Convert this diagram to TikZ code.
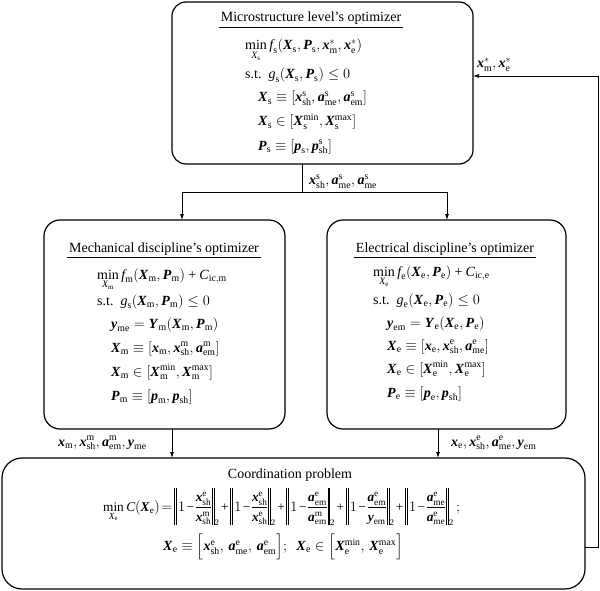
\documentclass[tikz,border=0pt]{standalone}
\usepackage{amsmath}
\usepackage{fontspec}
\setmainfont{Liberation Serif}
\usetikzlibrary{arrows.meta}
\newcommand{\vX}{\textbf{\textit{X}}}
\newcommand{\vP}{\textbf{\textit{P}}}
\newcommand{\vx}{\textbf{\textit{x}}}
\newcommand{\va}{\textbf{\textit{a}}}
\newcommand{\vy}{\textbf{\textit{y}}}
\newcommand{\vY}{\textbf{\textit{Y}}}
\newcommand{\vp}{\textbf{\textit{p}}}
\newcommand{\mf}{\textit{f}}
\newcommand{\mg}{\textit{g}}
\newcommand{\mC}{\textit{C}}
\newcommand{\mX}{\textit{X}}
\newcommand{\rmx}[1]{\mathrm{#1}}
\newcommand{\mplus}{\mathbin{\text{+}}}
\newcommand{\mminus}{\mathbin{\text{−}}}
\newcommand{\onebar}{\rule[-14pt]{0.5pt}{37pt}}
\newcommand{\dbar}{\onebar\hspace{1.4pt}\onebar}
\newcommand{\nrm}[2]{\dbar\mkern2mu 1\mminus\dfrac{#1}{#2}\mkern1mu\dbar_2}
\begin{document}
\begin{tikzpicture}[x=1pt,y=-1pt,
  font=\fontsize{14}{17}\selectfont,
  box/.style={draw, line width=1.2pt, rounded corners=16pt, inner sep=0pt, outer sep=0pt},
  conn/.style={draw, line width=0.8pt},
  arr/.style={-{Latex[length=6pt,width=4pt]}},
  ttl/.style={anchor=base, inner xsep=2pt, inner ysep=2.5pt},
  eq/.style={anchor=base west, inner sep=0pt},
  lbl/.style={anchor=base west, inner sep=0pt}]
\useasboundingbox (0,0) rectangle (600,591);
% boxes
\node[box, rounded corners=14pt, minimum width=301pt, minimum height=162pt] (top) at (322.5,83) {};
\node[box, minimum width=241pt, minimum height=209pt] (mech) at (164.5,324.5) {};
\node[box, minimum width=239pt, minimum height=209pt] (elec) at (446.5,324.5) {};
\node[box, rounded corners=20pt, minimum width=583pt, minimum height=131pt] (coord) at (293.5,523.5) {};
% top box content
\node[ttl] (t1) at (311,22) {Microstructure level’s optimizer};
\draw[line width=0.8pt] (t1.south west) -- (t1.south east);
\node[eq] (s1) at (245,50) {$\min\limits_{\mX_\rmx{s}} \mf_\rmx{s}(\vX_\rmx{s},\vP_\rmx{s},\vx_\rmx{m}^*,\vx_\rmx{e}^*)$};
\node[eq] (s2) at (245,79) {s.t.\ \ $\mg_\rmx{s}(\vX_\rmx{s},\vP_\rmx{s})\le 0$};
\node[eq] (s3) at (258,102) {$\vX_\rmx{s}\equiv[\vx_\rmx{sh}^\rmx{s},\va_\rmx{me}^\rmx{s},\va_\rmx{em}^\rmx{s}]$};
\node[eq] (s4) at (258,126) {$\vX_\rmx{s}\in[\vX_\rmx{s}^\rmx{min},\vX_\rmx{s}^\rmx{max}]$};
\node[eq] (s5) at (258,150) {$\vP_\rmx{s}\equiv[\vp_\rmx{s},\vp_\rmx{sh}^\rmx{s}]$};
% mech box content
\node[ttl] (t2) at (164,252) {Mechanical discipline’s optimizer};
\draw[line width=0.8pt] (t2.south west) -- (t2.south east);
\node[eq] (m1) at (97,279) {$\min\limits_{\mX_\rmx{m}} \mf_\rmx{m}(\vX_\rmx{m},\vP_\rmx{m})\mplus\mC_\rmx{ic,m}$};
\node[eq] (m2) at (97,305) {s.t.\ \ $\mg_\rmx{s}(\vX_\rmx{m},\vP_\rmx{m})\le 0$};
\node[eq] (m3) at (111,328) {$\vy_\rmx{me}=\vY_\rmx{m}(\vX_\rmx{m},\vP_\rmx{m})$};
\node[eq] (m4) at (111,352) {$\vX_\rmx{m}\equiv[\vx_\rmx{m},\vx_\rmx{sh}^\rmx{m},\va_\rmx{em}^\rmx{m}]$};
\node[eq] (m5) at (111,376) {$\vX_\rmx{m}\in[\vX_\rmx{m}^\rmx{min},\vX_\rmx{m}^\rmx{max}]$};
\node[eq] (m6) at (111,400) {$\vP_\rmx{m}\equiv[\vp_\rmx{m},\vp_\rmx{sh}]$};
% elec box content
\node[ttl] (t3) at (445,252) {Electrical discipline’s optimizer};
\draw[line width=0.8pt] (t3.south west) -- (t3.south east);
\node[eq] (e1) at (373,276) {$\min\limits_{\mX_\rmx{e}} \mf_\rmx{e}(\vX_\rmx{e},\vP_\rmx{e})\mplus\mC_\rmx{ic,e}$};
\node[eq] (e2) at (373,304) {s.t.\ \ $\mg_\rmx{e}(\vX_\rmx{e},\vP_\rmx{e})\le 0$};
\node[eq] (e3) at (387,327) {$\vy_\rmx{em}=\vY_\rmx{e}(\vX_\rmx{e},\vP_\rmx{e})$};
\node[eq] (e4) at (387,350) {$\vX_\rmx{e}\equiv[\vx_\rmx{e},\vx_\rmx{sh}^\rmx{e},\va_\rmx{me}^\rmx{e}]$};
\node[eq] (e5) at (387,373) {$\vX_\rmx{e}\in[\vX_\rmx{e}^\rmx{min},\vX_\rmx{e}^\rmx{max}]$};
\node[eq] (e6) at (387,397) {$\vP_\rmx{e}\equiv[\vp_\rmx{e},\vp_\rmx{sh}]$};
% coordination content
\node[anchor=base, inner sep=0pt] (t4) at (290,478) {Coordination problem};
\node[anchor=west, inner sep=0pt, font=\fontsize{13.3}{16}\selectfont] (c1) at (103,507) {\medmuskip=2mu\thickmuskip=2mu\nulldelimiterspace=0pt$\displaystyle\min\limits_{\mX_\rmx{e}} \mC(\vX_\rmx{e})=
 \nrm{\vx_\rmx{sh}^\rmx{e}}{\vx_\rmx{sh}^\rmx{m}}\mplus
 \nrm{\vx_\rmx{sh}^\rmx{e}}{\vx_\rmx{sh}^\rmx{e}}\mplus
 \nrm{\va_\rmx{em}^\rmx{e}}{\va_\rmx{em}^\rmx{m}}\mplus
 \nrm{\va_\rmx{em}^\rmx{e}}{\vy_\rmx{em}}\mplus
 \nrm{\va_\rmx{me}^\rmx{e}}{\va_\rmx{me}^\rmx{e}}\,;$};
\node[anchor=west, inner sep=0pt] (c2) at (163,547) {$\vX_\rmx{e}\equiv\Bigl[\vx_\rmx{sh}^\rmx{e},\,\va_\rmx{me}^\rmx{e},\,\va_\rmx{em}^\rmx{e}\Bigr];\ \ \vX_\rmx{e}\in\Bigl[\vX_\rmx{e}^\rmx{min},\,\vX_\rmx{e}^\rmx{max}\Bigr]$};
% connectors
\coordinate (j) at (302,192);
\coordinate (ma) at (182,192);
\coordinate (ea) at (447,192);
\draw[conn] (top.south -| j) -- (j);
\draw[conn] (ma) -- (ea);
\draw[conn,arr] (ma) -- (mech.north -| ma);
\draw[conn,arr] (ea) -- (elec.north -| ea);
\coordinate (mx) at (172,440);
\coordinate (ex) at (438,440);
\draw[conn,arr] (mech.south -| mx) -- (coord.north -| mx);
\draw[conn,arr] (elec.south -| ex) -- (coord.north -| ex);
\coordinate (fb1) at (598,547);
\coordinate (fb2) at (598,76);
\draw[conn,arr] (coord.east |- fb1) -- (fb1) -- (fb2) -- (top.east |- fb2);
% labels
\node[lbl] (l1) at (309,185) {$\vx_\rmx{sh}^\rmx{s},\va_\rmx{me}^\rmx{s},\va_\rmx{me}^\rmx{s}$};
\node[lbl] (l2) at (477,68) {$\vx_\rmx{m}^*,\vx_\rmx{e}^*$};
\node[lbl] (l3) at (58,446) {$\vx_\rmx{m},\vx_\rmx{sh}^\rmx{m},\va_\rmx{em}^\rmx{m},\vy_\rmx{me}$};
\node[lbl] (l4) at (451,446) {$\vx_\rmx{e},\vx_\rmx{sh}^\rmx{e},\va_\rmx{me}^\rmx{e},\vy_\rmx{em}$};
\end{tikzpicture}
\end{document}
